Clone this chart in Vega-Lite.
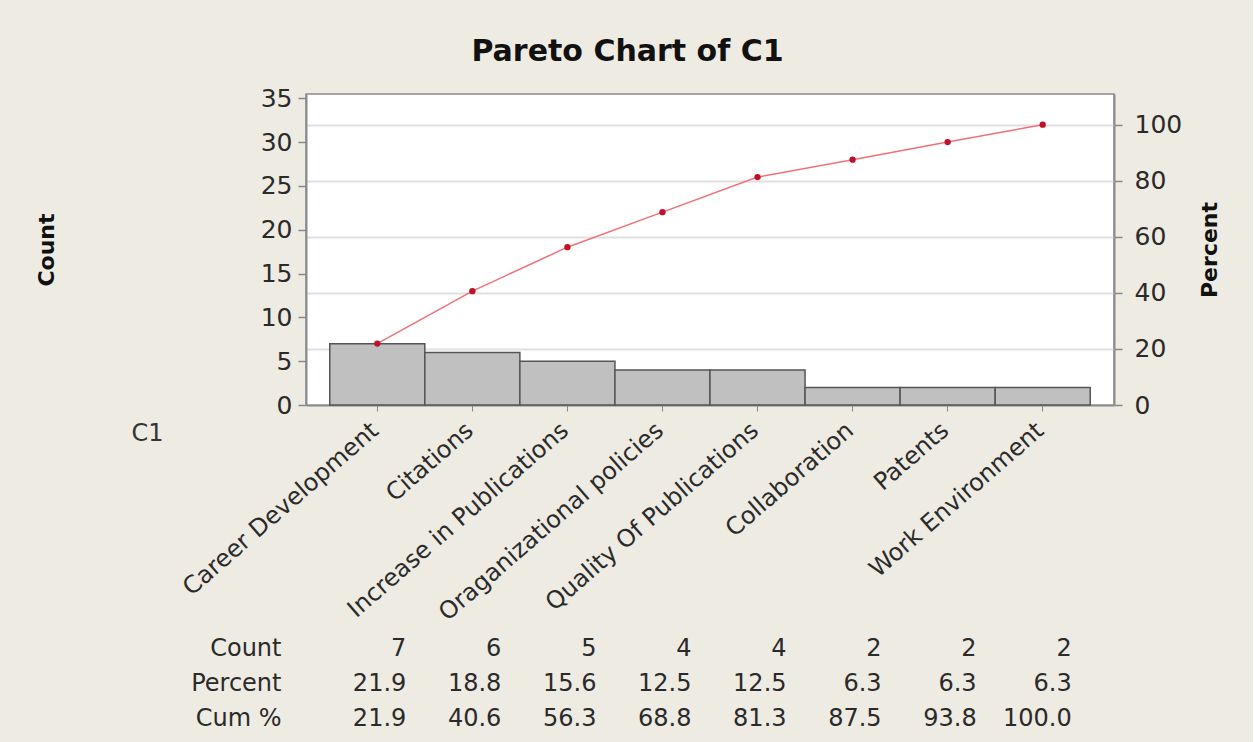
{
  "$schema": "https://vega.github.io/schema/vega-lite/v6.json",
  "background": "#eeebe3",
  "padding": {"left": 34, "top": 36, "right": 32, "bottom": 17},
  "title": {"text": "Pareto Chart of C1", "font": "DejaVu Sans", "fontSize": 30, "fontWeight": "bold", "color": "#111111", "anchor": "middle", "frame": "bounds", "offset": 19},
  "spacing": 5,
  "config": {"font": "DejaVu Sans"},
  "datasets": {
    "main": [
      {"cat": "Career Development", "count": 7, "cum": 21.9},
      {"cat": "Citations", "count": 6, "cum": 40.6},
      {"cat": "Increase in Publications", "count": 5, "cum": 56.3},
      {"cat": "Oraganizational policies", "count": 4, "cum": 68.8},
      {"cat": "Quality Of Publications", "count": 4, "cum": 81.3},
      {"cat": "Collaboration", "count": 2, "cum": 87.5},
      {"cat": "Patents", "count": 2, "cum": 93.8},
      {"cat": "Work Environment", "count": 2, "cum": 100.0}
    ],
    "table": [
      {"cat": "Career Development", "row": "Count", "val": "7"},
      {"cat": "Citations", "row": "Count", "val": "6"},
      {"cat": "Increase in Publications", "row": "Count", "val": "5"},
      {"cat": "Oraganizational policies", "row": "Count", "val": "4"},
      {"cat": "Quality Of Publications", "row": "Count", "val": "4"},
      {"cat": "Collaboration", "row": "Count", "val": "2"},
      {"cat": "Patents", "row": "Count", "val": "2"},
      {"cat": "Work Environment", "row": "Count", "val": "2"},
      {"cat": "Career Development", "row": "Percent", "val": "21.9"},
      {"cat": "Citations", "row": "Percent", "val": "18.8"},
      {"cat": "Increase in Publications", "row": "Percent", "val": "15.6"},
      {"cat": "Oraganizational policies", "row": "Percent", "val": "12.5"},
      {"cat": "Quality Of Publications", "row": "Percent", "val": "12.5"},
      {"cat": "Collaboration", "row": "Percent", "val": "6.3"},
      {"cat": "Patents", "row": "Percent", "val": "6.3"},
      {"cat": "Work Environment", "row": "Percent", "val": "6.3"},
      {"cat": "Career Development", "row": "Cum %", "val": "21.9"},
      {"cat": "Citations", "row": "Cum %", "val": "40.6"},
      {"cat": "Increase in Publications", "row": "Cum %", "val": "56.3"},
      {"cat": "Oraganizational policies", "row": "Cum %", "val": "68.8"},
      {"cat": "Quality Of Publications", "row": "Cum %", "val": "81.3"},
      {"cat": "Collaboration", "row": "Cum %", "val": "87.5"},
      {"cat": "Patents", "row": "Cum %", "val": "93.8"},
      {"cat": "Work Environment", "row": "Cum %", "val": "100.0"}
    ]
  },
  "vconcat": [
    {
      "width": 808,
      "height": 311,
      "data": {"name": "main"},
      "view": {"stroke": "#8c8c8c", "strokeWidth": 1.5, "fill": "#ffffff"},
      "encoding": {
        "x": {
          "field": "cat", "type": "nominal", "sort": null,
          "scale": {"type": "band", "paddingInner": 0, "paddingOuter": 0.25},
          "axis": {
            "title": "C1", "titleX": -175, "titleY": 28, "titleAlign": "left", "titleBaseline": "middle",
            "titleFontWeight": "normal", "titleFontSize": 24, "titleColor": "#333333",
            "labelAngle": -41, "labelFontSize": 24, "labelColor": "#2a2a2a", "labelPadding": 7, "labelOffset": -10, "labelLimit": 0,
            "tickSize": 6, "tickColor": "#888888", "domainColor": "#8c8c8c", "domainWidth": 2
          }
        }
      },
      "layer": [
        {
          "mark": {"type": "bar", "fill": "#c0c0c0", "stroke": "#555555", "strokeWidth": 1.5},
          "encoding": {
            "y": {
              "field": "count", "type": "quantitative",
              "scale": {"domain": [0, 35.5], "nice": false},
              "axis": {
                "values": [0, 5, 10, 15, 20, 25, 30, 35], "grid": false,
                "title": "Count", "titleX": -260, "titleY": 155.5, "titleBaseline": "middle", "titleAlign": "center",
                "titleFontSize": 22, "titleFontWeight": "bold", "titleColor": "#111111",
                "labelFontSize": 25, "labelColor": "#2a2a2a", "labelPadding": 6,
                "tickSize": 8, "tickColor": "#888888", "tickWidth": 1.5,
                "domainColor": "#8c8c8c", "domainWidth": 2
              }
            }
          }
        },
        {
          "encoding": {
            "y": {
              "field": "cum", "type": "quantitative",
              "scale": {"domain": [0, 110.94], "nice": false},
              "axis": {
                "orient": "right", "values": [0, 20, 40, 60, 80, 100],
                "grid": true, "gridColor": "#e0e0e0", "gridWidth": 2,
                "title": "Percent", "titleAngle": 270, "titleX": 95, "titleY": 155.5, "titleBaseline": "middle", "titleAlign": "center",
                "titleFontSize": 22, "titleFontWeight": "bold", "titleColor": "#111111",
                "labelFontSize": 25, "labelColor": "#2a2a2a", "labelPadding": 12,
                "tickSize": 8, "tickColor": "#888888", "tickWidth": 1.5,
                "domainColor": "#8c8c8c", "domainWidth": 2
              }
            }
          },
          "layer": [
            {"mark": {"type": "line", "color": "#f0707a", "strokeWidth": 1.5}},
            {"mark": {"type": "point", "filled": true, "color": "#c0102a", "size": 40, "opacity": 1}}
          ]
        }
      ],
      "resolve": {"scale": {"y": "independent"}}
    },
    {
      "width": 808,
      "height": 105,
      "data": {"name": "table"},
      "view": {"stroke": null},
      "mark": {"type": "text", "align": "right", "baseline": "middle", "dx": 29, "fontSize": 24, "color": "#2a2a2a"},
      "encoding": {
        "x": {
          "field": "cat", "type": "nominal",
          "sort": ["Career Development", "Citations", "Increase in Publications", "Oraganizational policies", "Quality Of Publications", "Collaboration", "Patents", "Work Environment"],
          "scale": {"type": "band", "paddingInner": 0, "paddingOuter": 0.25},
          "axis": null
        },
        "y": {
          "field": "row", "type": "nominal", "sort": ["Count", "Percent", "Cum %"],
          "scale": {"type": "band", "paddingInner": 0, "paddingOuter": 0},
          "axis": {"title": null, "domain": false, "ticks": false, "labelFontSize": 24, "labelColor": "#2a2a2a", "labelPadding": 25}
        },
        "text": {"field": "val"}
      }
    }
  ]
}
